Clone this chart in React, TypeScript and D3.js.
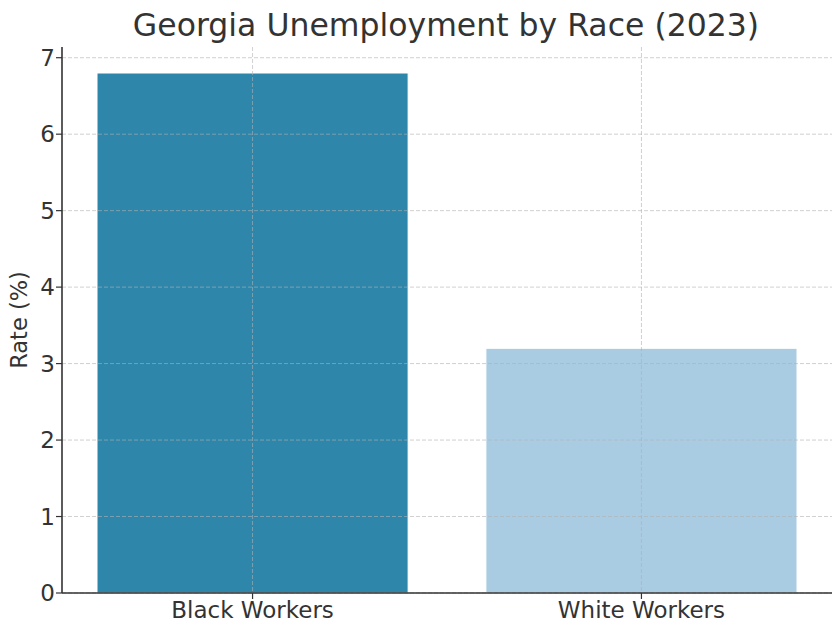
import React from "react";
import * as d3 from "d3";

const categories = ["Black Workers", "White Workers"];
const rates = [6.8, 3.2];
const colors = ["#2e86ab", "#a9cce3"];
const yTicks = [0, 1, 2, 3, 4, 5, 6, 7];
const title = "Georgia Unemployment by Race (2023)";
const yLabel = "Rate (%)";

export default function App() {
  const W = 840, H = 631;
  const left = 62, right = 832, top = 47, bottom = 593;
  const x = d3.scaleLinear().domain([-0.49, 1.49]).range([left, right]);
  const y = d3.scaleLinear().domain([0, 7.14]).range([bottom, top]);
  const bw = x(0.4) - x(0);
  const font = "DejaVu Sans, sans-serif";
  const txt = "#333333";
  return (
    <svg width={W} height={H} style={{ position: "absolute", left: 0, top: 0, background: "#fff" }} fontFamily={font}>
      <rect x={0} y={0} width={W} height={H} fill="#fff" />
      {categories.map((c, i) => (
        <rect key={c} x={x(i) - bw} y={y(rates[i])} width={bw * 2} height={y(0) - y(rates[i])} fill={colors[i]} stroke="#fff" strokeWidth={1} />
      ))}
      {yTicks.map((t) => (
        <line key={"g" + t} x1={left} x2={right} y1={y(t)} y2={y(t)} stroke="#b0b0b0" strokeOpacity={0.6} strokeDasharray="4,2" strokeWidth={1} />
      ))}
      {categories.map((c, i) => (
        <line key={"gv" + c} x1={x(i)} x2={x(i)} y1={top} y2={bottom} stroke="#b0b0b0" strokeOpacity={0.6} strokeDasharray="4,2" strokeWidth={1} />
      ))}
      <line x1={left} x2={left} y1={top} y2={bottom} stroke={txt} strokeWidth={1.6} />
      <line x1={left} x2={right} y1={bottom} y2={bottom} stroke={txt} strokeWidth={1.6} />
      {yTicks.map((t) => (
        <g key={"t" + t}>
          <line x1={left - 6} x2={left} y1={y(t)} y2={y(t)} stroke={txt} strokeWidth={1.2} />
          <text x={left - 7} y={y(t)} dy="0.36em" textAnchor="end" fontSize={23} fill={txt}>{t}</text>
        </g>
      ))}
      {categories.map((c, i) => (
        <g key={"xt" + c}>
          <line x1={x(i)} x2={x(i)} y1={bottom} y2={bottom + 6} stroke={txt} strokeWidth={1.2} />
          <text x={x(i)} y={bottom + 25} textAnchor="middle" fontSize={23} fill={txt}>{c}</text>
        </g>
      ))}
      <text x={446} y={36} textAnchor="middle" fontSize={31.5} fill={txt}>{title}</text>
      <text transform={`translate(27,${(top + bottom) / 2}) rotate(-90)`} textAnchor="middle" fontSize={22.5} fill={txt}>{yLabel}</text>
    </svg>
  );
}
